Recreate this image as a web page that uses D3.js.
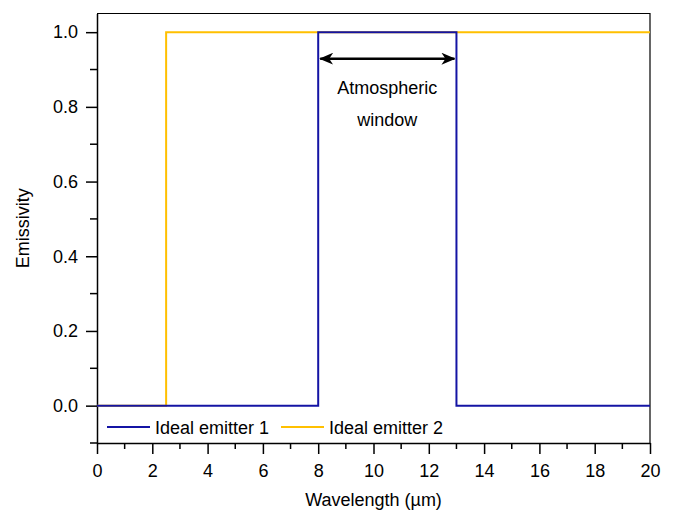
<!DOCTYPE html>
<html>
<head>
<meta charset="utf-8">
<script src="https://cdn.jsdelivr.net/npm/d3@7"></script>
<style>
body { margin: 0; background: #fff; }
svg text { font-family: "Liberation Sans", Arial, sans-serif; fill: #000; }
</style>
</head>
<body>
<div id="chart"></div>
<script>
const width = 673;
const height = 510;

// step spectra: [wavelength, emissivity]
const emitter1 = [[0, 0], [8, 0], [8, 1], [13, 1], [13, 0], [20, 0]];
const emitter2 = [[0, 0], [2.5, 0], [2.5, 1], [20, 1]];
const seriesNames = ["Ideal emitter 1", "Ideal emitter 2"];
const seriesColors = ["#1414a4", "#ffc000"];
const xTicks = [0, 2, 4, 6, 8, 10, 12, 14, 16, 18, 20];
const yTicks = [0, 0.2, 0.4, 0.6, 0.8, 1.0];
const windowRange = [8, 13];
const windowArrowY = 0.929;

const margin = {top: 13.5, right: 23, bottom: 67, left: 97};
const fontSize = "18px";

const svg = d3.select("#chart")
    .append("svg")
    .attr("width", width)
    .attr("height", height);

const x = d3.scaleLinear().domain([0, 20]).range([margin.left, width - margin.right]);
const y = d3.scaleLinear().domain([-0.1, 1.05]).range([height - margin.bottom, margin.top]);

// frame (top and right)
svg.append("path")
    .attr("d", `M${x(0)},${y(1.05)}H${x(20)}V${y(-0.1)}`)
    .attr("fill", "none")
    .attr("stroke", "#000")
    .attr("stroke-width", 1.2);

// minor ticks
const xMinor = d3.range(1, 20, 2);
const yMinor = [-0.1, 0.1, 0.3, 0.5, 0.7, 0.9];

svg.append("g")
    .selectAll("line")
    .data(xMinor)
    .enter()
    .append("line")
    .attr("x1", d => x(d)).attr("x2", d => x(d))
    .attr("y1", y(-0.1)).attr("y2", y(-0.1) + 6)
    .attr("stroke", "#000").attr("stroke-width", 1.5);

svg.append("g")
    .selectAll("line")
    .data(yMinor)
    .enter()
    .append("line")
    .attr("y1", d => y(d)).attr("y2", d => y(d))
    .attr("x1", x(0)).attr("x2", x(0) - 7)
    .attr("stroke", "#000").attr("stroke-width", 1.5);

const xAxis = svg.append("g")
    .attr("transform", `translate(0,${y(-0.1)})`)
    .call(d3.axisBottom(x).tickValues(xTicks).tickSize(11).tickPadding(10).tickSizeOuter(0));

const yAxis = svg.append("g")
    .attr("transform", `translate(${x(0)},0)`)
    .call(d3.axisLeft(y).tickValues(yTicks).tickFormat(d3.format(".1f")).tickSize(11).tickPadding(8).tickSizeOuter(0));

[xAxis, yAxis].forEach(a => {
    a.select(".domain").attr("stroke-width", 1.5);
    a.selectAll(".tick line").attr("stroke-width", 1.5);
    a.selectAll(".tick text")
        .style("font-family", "'Liberation Sans', Arial, sans-serif")
        .style("font-size", fontSize);
});

// axis titles
svg.append("text")
    .attr("transform", `translate(29,${(y(1.05) + y(-0.1)) / 2}) rotate(-90)`)
    .attr("text-anchor", "middle")
    .style("font-size", fontSize)
    .text("Emissivity");

svg.append("text")
    .attr("x", (x(0) + x(20)) / 2)
    .attr("y", 506)
    .attr("text-anchor", "middle")
    .style("font-size", fontSize)
    .text("Wavelength (µm)");

// series
const line = d3.line().x(d => x(d[0])).y(d => y(d[1]));

svg.append("path")
    .datum(emitter2)
    .attr("d", line)
    .attr("fill", "none")
    .attr("stroke", seriesColors[1])
    .attr("stroke-width", 2);

svg.append("path")
    .datum(emitter1)
    .attr("d", line)
    .attr("fill", "none")
    .attr("stroke", seriesColors[0])
    .attr("stroke-width", 2);

// atmospheric window arrow
const defs = svg.append("defs");
defs.append("marker")
    .attr("id", "head")
    .attr("viewBox", "0 0 14 12")
    .attr("refX", 13)
    .attr("refY", 6)
    .attr("markerWidth", 14)
    .attr("markerHeight", 12)
    .attr("markerUnits", "userSpaceOnUse")
    .attr("orient", "auto-start-reverse")
    .append("path")
    .attr("d", "M0,0 L14,6 L0,12 L4,6 Z")
    .attr("fill", "#000");

svg.append("line")
    .attr("x1", x(windowRange[0]) + 2)
    .attr("x2", x(windowRange[1]) - 2)
    .attr("y1", y(windowArrowY))
    .attr("y2", y(windowArrowY))
    .attr("stroke", "#000")
    .attr("stroke-width", 2.5)
    .attr("marker-start", "url(#head)")
    .attr("marker-end", "url(#head)");

const midX = x((windowRange[0] + windowRange[1]) / 2);
svg.append("text")
    .attr("x", midX).attr("y", 94)
    .attr("text-anchor", "middle")
    .style("font-size", fontSize)
    .text("Atmospheric");
svg.append("text")
    .attr("x", midX).attr("y", 126)
    .attr("text-anchor", "middle")
    .style("font-size", fontSize)
    .text("window");

// legend
const legendY = 427;
const legendItems = [
    {name: seriesNames[0], color: seriesColors[0], x0: 107},
    {name: seriesNames[1], color: seriesColors[1], x0: 281}
];
const lg = svg.append("g")
    .selectAll("g")
    .data(legendItems)
    .enter()
    .append("g");

lg.append("line")
    .attr("x1", d => d.x0).attr("x2", d => d.x0 + 43)
    .attr("y1", legendY).attr("y2", legendY)
    .attr("stroke", d => d.color)
    .attr("stroke-width", 2);

lg.append("text")
    .attr("x", d => d.x0 + 48)
    .attr("y", legendY + 6.5)
    .style("font-size", fontSize)
    .text(d => d.name);
</script>
</body>
</html>
